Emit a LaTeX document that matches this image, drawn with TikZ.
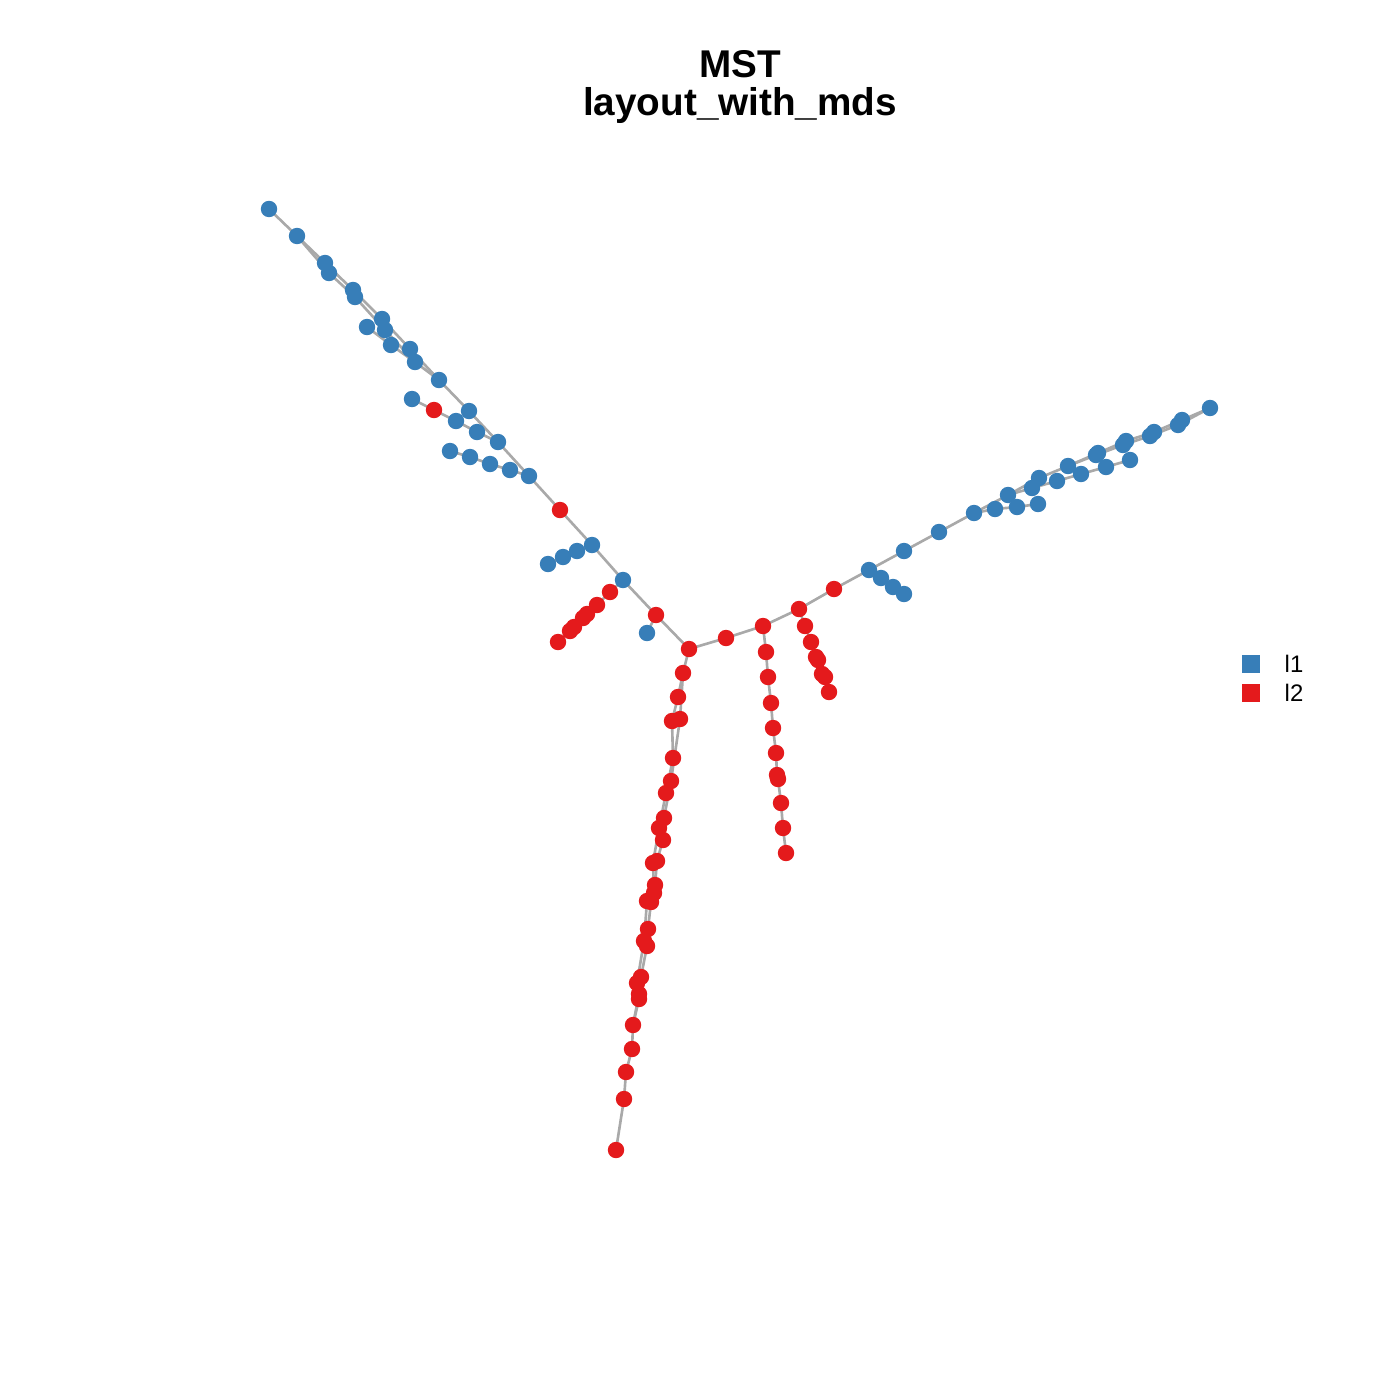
\documentclass[tikz,border=0pt]{standalone}
\usepackage{fontspec}
\setmainfont{Liberation Sans}
\definecolor{setblue}{HTML}{377EB8}
\definecolor{setred}{HTML}{E41A1C}
\definecolor{edgegray}{HTML}{A9A9A9}
\tikzset{
  mstedge/.style={edgegray, line width=0.75pt},
  legsq/.style={minimum size=1.8mm, inner sep=0pt, draw=none},
  legtext/.style={anchor=base west, inner sep=0pt, font=\fontsize{6.8}{8}\selectfont},
  titletext/.style={anchor=base, inner sep=0pt, font=\bfseries\fontsize{11}{13}\selectfont}
}
\begin{document}
\begin{tikzpicture}[x=0.01cm, y=-0.01cm]
    \useasboundingbox (0,0) rectangle (1400,1400);
    % upper left arm
    \coordinate (u1) at (269,209); \coordinate (u2) at (297,236); \coordinate (u3) at (325,263);
    \coordinate (u4) at (329,273); \coordinate (u5) at (353,290); \coordinate (u6) at (355,297);
    \coordinate (u7) at (382,319); \coordinate (u8) at (367,327); \coordinate (u9) at (385,330);
    \coordinate (u10) at (391,345); \coordinate (u11) at (410,349); \coordinate (u12) at (415,362);
    \coordinate (u13) at (439,380); \coordinate (u14) at (412,399); \coordinate (ur) at (434,410);
    \coordinate (u15) at (469,411); \coordinate (u16) at (456,421); \coordinate (u17) at (477,432);
    \coordinate (u18) at (498,442); \coordinate (u19) at (450,451); \coordinate (u20) at (470,457);
    \coordinate (u21) at (490,464); \coordinate (u22) at (510,470); \coordinate (u23) at (529,476);
    % centre
    \coordinate (c1) at (560,510); \coordinate (m1) at (592,545); \coordinate (m2) at (577,551);
    \coordinate (m3) at (563,557); \coordinate (m4) at (548,564); \coordinate (m5) at (623,580);
    \coordinate (n1) at (610,592); \coordinate (n2) at (597,605); \coordinate (n3) at (587,614);
    \coordinate (n4) at (583,618); \coordinate (n5) at (574,627); \coordinate (n6) at (570,631);
    \coordinate (n7) at (558,642); \coordinate (c2) at (656,615); \coordinate (m6) at (647,633);
    \coordinate (h) at (689,649);
    % right arm
    \coordinate (e1) at (726,638); \coordinate (e2) at (763,626); \coordinate (e3) at (799,609);
    \coordinate (e4) at (834,589); \coordinate (f1) at (869,570); \coordinate (f2) at (881,578);
    \coordinate (f3) at (893,587); \coordinate (f4) at (904,594); \coordinate (f5) at (904,551);
    \coordinate (f6) at (939,532); \coordinate (f7) at (974,513);
    \coordinate (g1) at (995,509); \coordinate (g2) at (1008,495); \coordinate (g3) at (1017,507);
    \coordinate (g4) at (1032,488); \coordinate (g5) at (1039,478); \coordinate (g6) at (1038,504);
    \coordinate (g7) at (1057,481); \coordinate (g8) at (1068,466); \coordinate (g9) at (1081,474);
    \coordinate (g10) at (1096,455); \coordinate (g10b) at (1098,453); \coordinate (g11) at (1106,467);
    \coordinate (g12) at (1123,445); \coordinate (g12b) at (1126,441); \coordinate (g13) at (1130,460);
    \coordinate (g14) at (1150,436); \coordinate (g14b) at (1154,432); \coordinate (g16) at (1178,425);
    \coordinate (g16b) at (1182,420); \coordinate (g18) at (1210,408);
    % red branches
    \coordinate (k1) at (766,652); \coordinate (k2) at (768,677); \coordinate (k3) at (771,703);
    \coordinate (k4) at (773,728); \coordinate (k5) at (776,753); \coordinate (k6) at (777,775);
    \coordinate (k7) at (778,779); \coordinate (k8) at (781,803); \coordinate (k9) at (783,828);
    \coordinate (k10) at (786,853);
    \coordinate (p1) at (805,626); \coordinate (p2) at (811,642); \coordinate (p3) at (816,657);
    \coordinate (p4) at (818,660); \coordinate (p5) at (822,674); \coordinate (p6) at (825,677);
    \coordinate (p7) at (829,692);
    % lower arm
    \coordinate (l1) at (683,673); \coordinate (l2) at (678,697); \coordinate (l3) at (672,721);
    \coordinate (l3b) at (680,719); \coordinate (l4) at (673,758); \coordinate (l5) at (671,781);
    \coordinate (l6) at (666,793); \coordinate (l7) at (664,818); \coordinate (l8) at (659,828);
    \coordinate (l9) at (663,840); \coordinate (l10) at (653,863); \coordinate (l11) at (657,861);
    \coordinate (l12) at (655,885); \coordinate (l13) at (654,893); \coordinate (l14) at (647,901);
    \coordinate (l15) at (651,902); \coordinate (l16) at (648,929); \coordinate (l17) at (644,941);
    \coordinate (l18) at (647,946); \coordinate (l19) at (641,977); \coordinate (l20) at (637,983);
    \coordinate (l21) at (639,994); \coordinate (l22) at (639,999); \coordinate (l23) at (633,1025);
    \coordinate (l24) at (632,1049); \coordinate (l25) at (626,1072); \coordinate (l26) at (624,1099);
    \coordinate (l27) at (616,1150);
    % tree edges
    \draw[mstedge] (u1)--(u2)--(u3)--(u5)--(u7)--(u11)--(u13)--(u15)--(u18)--(u23)--(c1);
    \draw[mstedge] (u2)--(u4)--(u6)--(u9)--(u12)--(u13);
    \draw[mstedge] (u8)--(u10)--(u12);
    \draw[mstedge] (u14)--(ur)--(u16)--(u17)--(u18);
    \draw[mstedge] (u19)--(u20)--(u21)--(u22)--(u23);
    \draw[mstedge] (c1)--(m1)--(m5)--(c2)--(h); \draw[mstedge] (m1)--(m2)--(m3)--(m4);
    \draw[mstedge] (m5)--(n1)--(n2)--(n3)--(n4)--(n5)--(n6)--(n7); \draw[mstedge] (c2)--(m6);
    \draw[mstedge] (h)--(e1)--(e2)--(e3)--(e4)--(f1)--(f5)--(f6)--(f7)--(g2)--(g5)--(g8)--(g10)--(g12)--(g14)--(g16)--(g18);
    \draw[mstedge] (f1)--(f2)--(f3)--(f4);
    \draw[mstedge] (f7)--(g1)--(g3)--(g6);
    \draw[mstedge] (g2)--(g4)--(g7)--(g9)--(g11)--(g13);
    \draw[mstedge] (g8)--(g10b)--(g12b)--(g14b)--(g16b)--(g18);
    \draw[mstedge] (e2)--(k1)--(k2)--(k3)--(k4)--(k5)--(k6)--(k7)--(k8)--(k9)--(k10);
    \draw[mstedge] (e3)--(p1)--(p2)--(p3)--(p4)--(p5)--(p6)--(p7);
    \draw[mstedge] (h)--(l1)--(l2)--(l3)--(l4)--(l6)--(l8)--(l10)--(l13)--(l14)--(l17)--(l20)--(l22)--(l23)--(l24)--(l25)--(l26)--(l27);
    \draw[mstedge] (l1)--(l3b)--(l5)--(l7)--(l9)--(l11)--(l12)--(l15)--(l16)--(l18)--(l19)--(l21)--(l23);
    % vertices
    \foreach \p in {u1,u2,u3,u4,u5,u6,u7,u8,u9,u10,u11,u12,u13,u14,u15,u16,u17,u18,u19,u20,u21,u22,u23,
        m1,m2,m3,m4,m5,m6,f1,f2,f3,f4,f5,f6,f7,g1,g2,g3,g4,g5,g6,g7,g8,g9,g10,g10b,g11,g12,g12b,g13,g14,g14b,g16,g16b,g18}
        \fill[setblue] (\p) circle (0.82mm);
    \foreach \p in {ur,c1,n1,n2,n3,n4,n5,n6,n7,c2,h,e1,e2,e3,e4,k1,k2,k3,k4,k5,k6,k7,k8,k9,k10,p1,p2,p3,p4,p5,p6,p7,
        l1,l2,l3,l3b,l4,l5,l6,l7,l8,l9,l10,l11,l12,l13,l14,l15,l16,l17,l18,l19,l20,l21,l22,l23,l24,l25,l26,l27}
        \fill[setred] (\p) circle (0.82mm);
    % title and legend
    \node[titletext] (title1) at (740,78) {MST};
    \node[titletext] (title2) at (740,116) {layout\_with\_mds};
    \node[legsq, fill=setblue] (sq1) at (1251,664) {};
    \node[legsq, fill=setred] (sq2) at (1251,693) {};
    \node[legtext] (lab1) at (1284,672) {l1};
    \node[legtext] (lab2) at (1284,701) {l2};
\end{tikzpicture}
\end{document}
